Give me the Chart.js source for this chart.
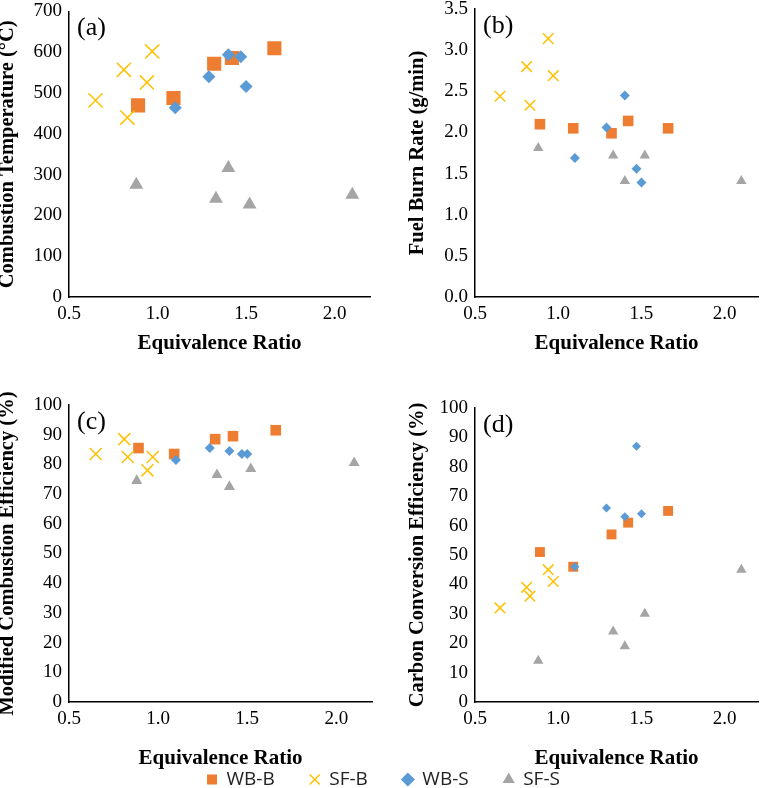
<!DOCTYPE html>
<html>
<head>
<meta charset="utf-8">
<script src="https://cdn.jsdelivr.net/npm/chart.js@4"></script>
<style>
  body { margin: 0; background: #fff; overflow: hidden; }
  #wrap { position: relative; width: 767px; height: 788px; overflow: hidden; }
  canvas { position: absolute; }
</style>
</head>
<body>
<div id="wrap">
  <canvas id="chartA" width="383" height="360" style="left:0;top:0;width:383px;height:360px"></canvas>
  <canvas id="chartB" width="384" height="360" style="left:383px;top:0;width:384px;height:360px"></canvas>
  <canvas id="chartC" width="383" height="400" style="left:0;top:385px;width:383px;height:400px"></canvas>
  <canvas id="chartD" width="384" height="400" style="left:383px;top:385px;width:384px;height:400px"></canvas>
  <canvas id="legend" width="767" height="150" style="left:0;top:735px;width:767px;height:150px"></canvas>
</div>
<script>
// Equivalence ratio of each run
const xWBB = [0.89, 1.09, 1.32, 1.42, 1.66];
const xSFB = [0.65, 0.81, 0.83, 0.94, 0.97];
const xWBS = [1.10, 1.29, 1.40, 1.47, 1.50];
const xSFS = [0.88, 1.33, 1.40, 1.52, 2.10];

// (a) Combustion temperature (°C)
const tempWBB = [470, 488, 572, 586, 610];
const tempSFB = [482, 557, 440, 526, 602];
const tempWBS = [464, 540, 594, 589, 516];
const tempSFS = [275, 241, 316, 227, 251];

// (b) Fuel burn rate (g/min)
const burnWBB = [2.10, 2.05, 1.99, 2.14, 2.05];
const burnSFB = [2.44, 2.80, 2.33, 3.14, 2.69];
const burnWBS = [1.69, 2.06, 2.45, 1.56, 1.39];
const burnSFS = [1.81, 1.72, 1.41, 1.72, 1.41];

// (c) Modified combustion efficiency (%)
const mceWBB = [85.5, 83.5, 88.5, 89.5, 91.5];
const mceSFB = [83.5, 88.5, 82.5, 78, 82.5];
const mceWBS = [81.5, 85.5, 84.5, 83.5, 83.5];
const mceSFS = [74.5, 76.5, 72.5, 78.5, 80.5];

// (d) Carbon conversion efficiency (%)
const cceWBB = [51, 46, 57, 61, 65];
const cceSFB = [32, 39, 36, 45, 41];
const cceWBS = [46, 66, 63, 87, 64];
const cceSFS = [14, 24, 19, 30, 45];

const seriesNames = ['WB-B', 'SF-B', 'WB-S', 'SF-S'];
const xTicks = [0.5, 1.0, 1.5, 2.0];

const ORANGE = '#ED7D31';
const YELLOW = '#FFC000';
const BLUE = '#5B9BD5';
const GRAY = '#A5A5A5';

Chart.defaults.font.family = '"Liberation Serif", "Times New Roman", serif';
Chart.defaults.color = '#000';

const pair = (xs, ys) => xs.map((x, i) => ({ x: x, y: ys[i] }));

// draws "(a)", "(b)" ... in the top-left corner of the plot
const panelLabel = {
    id: 'panelLabel',
    afterDraw(chart, args, opts) {
        if (!opts.text) return;
        const { ctx, chartArea } = chart;
        ctx.save();
        ctx.font = '26px "Liberation Serif", serif';
        ctx.fillStyle = '#000';
        ctx.textBaseline = 'middle';
        ctx.fillText(opts.text, chartArea.left + 8, chartArea.top + 17);
        ctx.restore();
    }
};

function makeDatasets(ys, r) {
    return [
        { label: seriesNames[0], data: pair(xWBB, ys[0]), pointStyle: 'rect', pointRadius: r[0],
          backgroundColor: ORANGE, borderColor: ORANGE, borderWidth: 0, order: 4 },
        { label: seriesNames[1], data: pair(xSFB, ys[1]), pointStyle: 'crossRot', pointRadius: r[1],
          backgroundColor: YELLOW, borderColor: YELLOW, borderWidth: 1.5, order: 3 },
        { label: seriesNames[2], data: pair(xWBS, ys[2]), pointStyle: 'rectRot', pointRadius: r[2],
          backgroundColor: BLUE, borderColor: BLUE, borderWidth: 0, order: 2 },
        { label: seriesNames[3], data: pair(xSFS, ys[3]), pointStyle: 'triangle', pointRadius: r[3],
          backgroundColor: GRAY, borderColor: GRAY, borderWidth: 0, order: 1 }
    ];
}

function makePanel(id, p) {
    return new Chart(document.getElementById(id), {
        type: 'scatter',
        data: { datasets: makeDatasets(p.ys, p.radius) },
        options: {
            responsive: false,
            animation: false,
            layout: { padding: { top: p.padTop, right: p.padRight, left: 0, bottom: 0 } },
            plugins: {
                legend: { display: false },
                tooltip: { enabled: false },
                panelLabel: { text: p.label }
            },
            scales: {
                x: {
                    type: 'linear',
                    min: 0.5,
                    max: 2.2,
                    grid: { display: false, drawTicks: false },
                    border: { display: true, color: '#000', width: 1.5 },
                    afterBuildTicks: (scale) => { scale.ticks = xTicks.map(v => ({ value: v })); },
                    ticks: { padding: 6, font: { size: 19 }, callback: v => v.toFixed(1) },
                    title: { display: true, text: 'Equivalence Ratio', font: { size: 21, weight: 'bold' },
                             padding: { top: p.xTitlePad, bottom: p.xTitlePad } },
                    afterFit: (scale) => {
                        scale.height = p.xAxisH;
                        scale.paddingLeft = 0;
                        scale.paddingRight = 0;
                    }
                },
                y: {
                    min: 0,
                    max: p.yMax,
                    grid: { display: false, drawTicks: false },
                    border: { display: true, color: '#000', width: 1.5 },
                    ticks: { stepSize: p.yStep, padding: 7, font: { size: 19 },
                             callback: v => v.toFixed(p.yDec) },
                    title: { display: true, text: p.yTitle, font: { size: 20.5, weight: 'bold' },
                             padding: { top: p.yTitlePad, bottom: p.yTitlePad } },
                    afterFit: (scale) => {
                        scale.width = p.yAxisW;
                        scale.paddingTop = 0;
                        scale.paddingBottom = 0;
                    }
                }
            }
        },
        plugins: [panelLabel]
    });
}

makePanel('chartA', {
    label: '(a)', yTitle: 'Combustion Temperature (°C)',
    ys: [tempWBB, tempSFB, tempWBS, tempSFS], radius: [10, 10, 6.5, 8],
    yMax: 700, yStep: 100, yDec: 0,
    yAxisW: 69, xAxisH: 63, padTop: 7, padRight: 13, yTitlePad: -4.4, xTitlePad: 3.4
});

makePanel('chartB', {
    label: '(b)', yTitle: 'Fuel Burn Rate (g/min)',
    ys: [burnWBB, burnSFB, burnWBS, burnSFS], radius: [7.5, 7.5, 5, 6],
    yMax: 3.5, yStep: 0.5, yDec: 1,
    yAxisW: 92, xAxisH: 63, padTop: 9, padRight: 1, yTitlePad: 22, xTitlePad: 3.4
});

makePanel('chartC', {
    label: '(c)', yTitle: 'Modified Combustion Efficiency (%)',
    ys: [mceWBB, mceSFB, mceWBS, mceSFS], radius: [7.5, 8.5, 5, 6.4],
    yMax: 100, yStep: 10, yDec: 0,
    yAxisW: 69, xAxisH: 83, padTop: 20, padRight: 11, yTitlePad: -4.4, xTitlePad: 13.4
});

makePanel('chartD', {
    label: '(d)', yTitle: 'Carbon Conversion Efficiency (%)',
    ys: [cceWBB, cceSFB, cceWBS, cceSFS], radius: [7, 7.5, 4.5, 6],
    yMax: 100, yStep: 10, yDec: 0,
    yAxisW: 92, xAxisH: 83, padTop: 23, padRight: 3, yTitlePad: 22, xTitlePad: 13.4
});

// shared legend under the four panels (same order as the series list)
new Chart(document.getElementById('legend'), {
    type: 'scatter',
    data: {
        datasets: makeDatasets([[], [], [], []], [7, 7, 7, 7])
            .map(d => Object.assign(d, { data: [], order: 0 }))
    },
    options: {
        responsive: false,
        animation: false,
        layout: { padding: 0 },
        scales: { x: { display: false }, y: { display: false } },
        plugins: {
            tooltip: { enabled: false },
            legend: {
                position: 'top',
                labels: {
                    usePointStyle: true,
                    boxWidth: 10,
                    boxHeight: 10,
                    padding: 35,
                    color: '#222',
                    font: { family: '"Open Sans", sans-serif', size: 19 }
                }
            }
        }
    }
});
</script>
</body>
</html>
